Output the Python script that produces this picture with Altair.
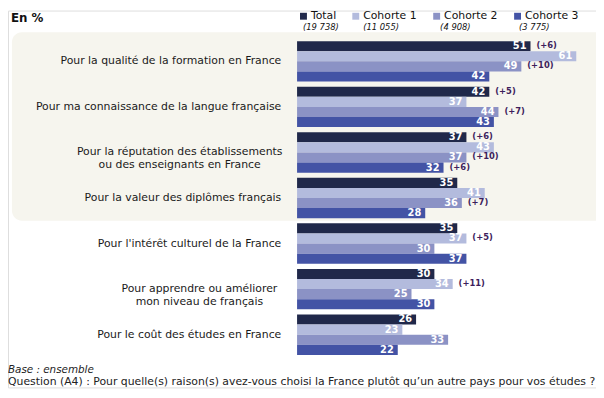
import altair as alt
import pandas as pd

CATEGORIES = [
    "Pour la qualité de la formation en France",
    "Pour ma connaissance de la langue française",
    "Pour la réputation des établissements\nou des enseignants en France",
    "Pour la valeur des diplômes français",
    "Pour l'intérêt culturel de la France",
    "Pour apprendre ou améliorer\nmon niveau de français",
    "Pour le coût des études en France",
]
SERIES = ["Total", "Cohorte 1", "Cohorte 2", "Cohorte 3"]
COUNTS = ["(19 738)", "(11 055)", "(4 908)", "(3 775)"]
COLORS = ["#20284a", "#b3bbdd", "#8b92c5", "#4353a5"]

TOTAL = [51, 42, 37, 35, 35, 30, 26]
COHORTE_1 = [61, 37, 43, 41, 37, 34, 23]
COHORTE_2 = [49, 44, 37, 36, 30, 25, 33]
COHORTE_3 = [42, 43, 32, 28, 37, 30, 22]

ANN_TOTAL = ["(+6)", "(+5)", "(+6)", "", "", "", ""]
ANN_C1 = ["", "", "", "", "(+5)", "(+11)", ""]
ANN_C2 = ["(+10)", "(+7)", "(+10)", "(+7)", "", "", ""]
ANN_C3 = ["", "", "(+6)", "", "", "", ""]

FONT = "DejaVu Sans"

rows = []
for i, cat in enumerate(CATEGORIES):
    for s, vals, anns in zip(SERIES, [TOTAL, COHORTE_1, COHORTE_2, COHORTE_3],
                             [ANN_TOTAL, ANN_C1, ANN_C2, ANN_C3]):
        rows.append({"category": cat, "series": s, "value": vals[i], "ann": anns[i]})
df = pd.DataFrame(rows)

xscale = alt.Scale(domain=[0, 61], range=[293, 576], nice=False, zero=True)
yscale = alt.Scale(domain=CATEGORIES, range=[31, 349], paddingInner=0.113, paddingOuter=0)
yoff = alt.YOffset("series:N", scale=alt.Scale(domain=SERIES, paddingInner=0, paddingOuter=0))
Y = alt.Y("category:N", scale=yscale, axis=None)
X = alt.X("value:Q", scale=xscale, axis=None)

bg = alt.Chart(pd.DataFrame({"a": [1]})).mark_rect(color="#f6f5ee", cornerRadius=10).encode(
    x=alt.value(4), x2=alt.value(640), y=alt.value(22), y2=alt.value(213)
)

bars = alt.Chart(df).mark_bar().encode(
    x=X, y=Y, yOffset=yoff,
    color=alt.Color(
        "series:N",
        scale=alt.Scale(domain=SERIES, range=COLORS),
        legend=alt.Legend(
            orient="none", legendX=294, legendY=0, direction="horizontal", title=None,
            symbolType="square", symbolSize=49, symbolStrokeWidth=0, symbolOpacity=1,
            labelFont=FONT, labelFontSize=11, labelColor="#111", labelOffset=2,
            columnPadding=14, padding=0,
        ),
    ),
)

values = alt.Chart(df).mark_text(
    align="right", baseline="middle", dx=-4, color="white", fontWeight="bold",
    fontSize=10, font=FONT
).encode(x=X, y=Y, yOffset=yoff, text="value:Q")

anns = alt.Chart(df[df["ann"] != ""]).mark_text(
    align="left", baseline="middle", dx=6, dy=-1, color="#3d1e5c", fontWeight="bold",
    fontSize=8.5, font=FONT
).encode(x=X, y=Y, yOffset=yoff, text="ann:N")

single = pd.DataFrame({"category": [c for c in CATEGORIES if "\n" not in c]})
labels = alt.Chart(single).mark_text(
    align="right", baseline="middle", fontSize=11, font=FONT, color="#1a1a1a"
).encode(y=Y, x=alt.value(277), text="category:N")

multi_layers = []
for cat, cx in zip([c for c in CATEGORIES if "\n" in c], [174, 194]):
    multi_layers.append(
        alt.Chart(pd.DataFrame({"category": [cat]})).mark_text(
            align="center", baseline="middle", fontSize=11, font=FONT, color="#1a1a1a",
            lineBreak="\n", lineHeight=13
        ).encode(y=Y, x=alt.value(cx), text="category:N")
    )

count_layers = []
for cnt, cx in zip(COUNTS, [299, 360, 438, 518]):
    count_layers.append(
        alt.Chart(pd.DataFrame({"t": [cnt]})).mark_text(
            align="left", baseline="middle", fontSize=8.5, font=FONT, fontStyle="italic",
            color="#111"
        ).encode(text="t:N", x=alt.value(cx), y=alt.value(17))
    )

title = alt.Chart(pd.DataFrame({"t": ["En %"]})).mark_text(
    align="left", baseline="middle", fontSize=12, fontWeight="bold", font=FONT, color="#111"
).encode(text="t:N", x=alt.value(3), y=alt.value(8))

base = alt.Chart(pd.DataFrame({"t": ["Base : ensemble"]})).mark_text(
    align="left", baseline="middle", fontSize=10.5, fontStyle="italic", font=FONT, color="#222"
).encode(text="t:N", x=alt.value(0), y=alt.value(364))

question = alt.Chart(pd.DataFrame({"t": [
    "Question (A4) : Pour quelle(s) raison(s) avez-vous choisi la France plutôt qu\u2019un autre pays pour vos études ?"
]})).mark_text(
    align="left", baseline="middle", fontSize=11, font=FONT, color="#222"
).encode(text="t:N", x=alt.value(0), y=alt.value(377))

chart = alt.layer(
    bg, bars, values, anns, labels, *multi_layers, *count_layers, title, base, question
).properties(
    width=596, height=382, padding=0, autosize=alt.AutoSizeParams(type="none")
).configure_view(stroke=None).configure(background="white")

chart.save("out.html", embed_options={"renderer": "svg", "actions": False})
